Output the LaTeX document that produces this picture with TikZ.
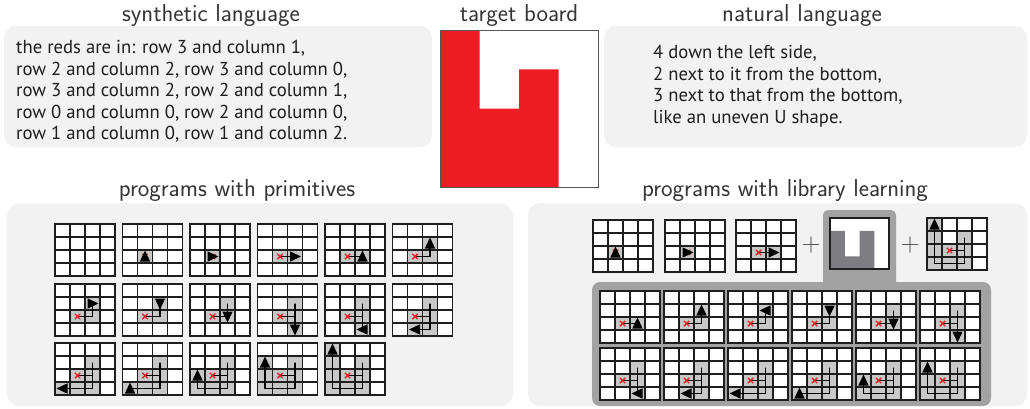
\documentclass[tikz,border=0pt]{standalone}
\usepackage{fontspec}
\newfontfamily\bodyfont{PT Sans}
\usepackage{tikz}
\usetikzlibrary{positioning}
\definecolor{panel}{HTML}{F2F2F2}
\definecolor{boardred}{HTML}{ED1C24}
\definecolor{visit}{HTML}{C8C8C8}
\definecolor{library}{HTML}{A3A2A3}
\definecolor{libshape}{HTML}{7E7E82}
\definecolor{ink}{HTML}{1E1E1E}

% 4x4 board: corner, visited cells, trail from the start, turtle cell, heading
\newcommand{\turtleboard}[5]{%
  \begin{scope}[shift={#1}, x=15pt, y=-13pt]
    \fill[white] (0,0) rectangle (4,4);
    \ifx\relax#2\relax\else\foreach \c/\r in {#2} {\fill[visited] (\c,\r) rectangle ++(1,1);}\fi
    \foreach \i in {1,2,3} {\draw[gridline] (\i,0) -- (\i,4) (0,\i) -- (4,\i);}
    \draw[gridline] (0,0) rectangle (4,4);
    \ifx\relax#4\relax\else
      \draw[trail] (1.5,2.5) #3;
      \draw[startmark] (1.5,2.5) +(-2.7pt,-2.7pt) -- +(2.7pt,2.7pt) +(-2.7pt,2.7pt) -- +(2.7pt,-2.7pt);
      \fill[turtle, shift={(#4)}, rotate=#5] (0pt,6pt) -- (-5.2pt,-5pt) -- (5.2pt,-5pt) -- cycle;
    \fi
  \end{scope}}

\begin{document}
\begin{tikzpicture}[x=1pt, y=-1pt,
  heading/.style={font=\sffamily\fontsize{24.5}{24.5}\selectfont, text=ink!90, anchor=base, inner sep=0pt},
  bodytext/.style={font=\bodyfont\fontsize{18.7}{21.6}\selectfont, text=ink, align=left, anchor=north west, inner sep=0pt},
  panelbox/.style={fill=panel, rounded corners=12pt},
  plus/.style={font=\sffamily\fontsize{26}{26}\selectfont, text=ink!80, inner sep=0pt},
  visited/.style={fill=visit},
  gridline/.style={draw=ink, line width=1.5pt},
  trail/.style={draw=black, line width=1.8pt},
  startmark/.style={draw=boardred, line width=1.4pt},
  turtle/.style={fill=black}]
\useasboundingbox (0,0) rectangle (1030,408);
% panels
\fill[panelbox] (4,26) rectangle (432,147);
\fill[panelbox] (604,26) rectangle (1027,147);
\fill[panelbox] (7,203) rectangle (513,406);
\fill[panelbox] (528,203) rectangle (1027,406);
% titles
\node[heading] (synth-title) at (211,21) {synthetic language};
\node[heading] (board-title) at (519,21) {target board};
\node[heading] (natural-title) at (802,21) {natural language};
\node[heading] (prim-title) at (237,196) {programs with primitives};
\node[heading] (lib-title) at (785,196) {programs with library learning};
% descriptions
\node[bodytext] (synth-text) at (16,40) {the reds are in: row 3 and column 1,\\
  row 2 and column 2, row 3 and column 0,\\
  row 3 and column 2, row 2 and column 1,\\
  row 0 and column 0, row 2 and column 0,\\
  row 1 and column 0, row 1 and column 2.};
\node[bodytext] (natural-text) at (653,45) {4 down the left side,\\
  2 next to it from the bottom,\\
  3 next to that from the bottom,\\
  like an uneven U shape.};
% target board
\begin{scope}[shift={(440,30)}, x=39.5pt, y=-39.25pt]
  \fill[white] (0,0) rectangle (4,4);
  \fill[boardred] (0,0) -- (1,0) -- (1,2) -- (2,2) -- (2,1) -- (3,1) -- (3,4) -- (0,4) -- cycle;
  \draw[ink!75, line width=0.8pt] (0,0) rectangle (4,4);
\end{scope}
% primitives
\turtleboard{(55,224)}{}{}{}{}
\turtleboard{(122.5,224)}{1/2}{}{1.5,2.5}{0}
\turtleboard{(190,224)}{1/2}{}{1.5,2.5}{-90}
\turtleboard{(257.5,224)}{1/2,2/2}{-- (2.5,2.5)}{2.5,2.5}{-90}
\turtleboard{(325,224)}{1/2,2/2}{-- (2.5,2.5)}{2.5,2.5}{0}
\turtleboard{(392.5,224)}{1/2,2/2,2/1}{-- (2.5,2.5) -- (2.5,1.5)}{2.5,1.5}{0}
\turtleboard{(55,284)}{1/2,2/2,2/1}{-- (2.5,2.5) -- (2.5,1.5)}{2.5,1.5}{-90}
\turtleboard{(122.5,284)}{1/2,2/2,2/1}{-- (2.5,2.5) -- (2.5,1.5)}{2.5,1.5}{180}
\turtleboard{(190,284)}{1/2,2/2,2/1}{-- (2.5,2.5) -- (2.5,1.5) -- (2.5,2.5)}{2.5,2.5}{180}
\turtleboard{(257.5,284)}{1/2,2/2,2/1,2/3}{-- (2.5,2.5) -- (2.5,1.5) -- (2.5,3.5)}{2.5,3.5}{180}
\turtleboard{(325,284)}{1/2,2/2,2/1,2/3}{-- (2.5,2.5) -- (2.5,1.5) -- (2.5,3.5)}{2.5,3.5}{90}
\turtleboard{(392.5,284)}{1/2,2/2,2/1,2/3,1/3}{-- (2.5,2.5) -- (2.5,1.5) -- (2.5,3.5) -- (1.5,3.5)}{1.5,3.5}{90}
\turtleboard{(55,343)}{1/2,2/2,2/1,2/3,1/3,0/3}{-- (2.5,2.5) -- (2.5,1.5) -- (2.5,3.5) -- (0.5,3.5)}{0.5,3.5}{90}
\turtleboard{(122.5,343)}{1/2,2/2,2/1,2/3,1/3,0/3}{-- (2.5,2.5) -- (2.5,1.5) -- (2.5,3.5) -- (0.5,3.5)}{0.5,3.5}{0}
\turtleboard{(190,343)}{1/2,2/2,2/1,2/3,1/3,0/3,0/2}{-- (2.5,2.5) -- (2.5,1.5) -- (2.5,3.5) -- (0.5,3.5) -- (0.5,2.5)}{0.5,2.5}{0}
\turtleboard{(257.5,343)}{1/2,2/2,2/1,2/3,1/3,0/3,0/2,0/1}{-- (2.5,2.5) -- (2.5,1.5) -- (2.5,3.5) -- (0.5,3.5) -- (0.5,1.5)}{0.5,1.5}{0}
\turtleboard{(325,343)}{1/2,2/2,2/1,2/3,1/3,0/3,0/2,0/1,0/0}{-- (2.5,2.5) -- (2.5,1.5) -- (2.5,3.5) -- (0.5,3.5) -- (0.5,0.5)}{0.5,0.5}{0}
% library learning
\fill[library, rounded corners=8pt] (592,282) rectangle (991,406);
\fill[library, rounded corners=5pt] (823,210) rectangle (896,295);
\begin{scope}[shift={(830,218)}, x=14.75pt, y=-12.75pt]
  \fill[white] (0,0) rectangle (4,4);
  \fill[libshape] (0,1) -- (1,1) -- (1,3) -- (2,3) -- (2,1) -- (3,1) -- (3,4) -- (0,4) -- cycle;
  \draw[ink, line width=1.3pt] (0,0) rectangle (4,4);
\end{scope}
\node[plus] (plus-a) at (811,245) {+};
\node[plus] (plus-b) at (910,245) {+};
\turtleboard{(593,220)}{1/2}{}{1.5,2.5}{0}
\turtleboard{(665,220)}{1/2}{}{1.5,2.5}{-90}
\turtleboard{(736,220)}{1/2,2/2}{-- (2.5,2.5)}{2.5,2.5}{-90}
\turtleboard{(927,218)}{1/2,2/2,2/1,2/3,1/3,0/3,0/2,0/1,0/0}{-- (2.5,2.5) -- (2.5,1.5) -- (2.5,3.5) -- (0.5,3.5) -- (0.5,0.5)}{0.5,0.5}{0}
\turtleboard{(600,291)}{1/2,2/2}{-- (2.5,2.5)}{2.5,2.5}{0}
\turtleboard{(664,291)}{1/2,2/2,2/1}{-- (2.5,2.5) -- (2.5,1.5)}{2.5,1.5}{0}
\turtleboard{(728,291)}{1/2,2/2,2/1}{-- (2.5,2.5) -- (2.5,1.5)}{2.5,1.5}{90}
\turtleboard{(792,291)}{1/2,2/2,2/1}{-- (2.5,2.5) -- (2.5,1.5)}{2.5,1.5}{180}
\turtleboard{(856,291)}{1/2,2/2,2/1}{-- (2.5,2.5) -- (2.5,1.5) -- (2.5,2.5)}{2.5,2.5}{180}
\turtleboard{(920,291)}{1/2,2/2,2/1,2/3}{-- (2.5,2.5) -- (2.5,1.5) -- (2.5,3.5)}{2.5,3.5}{180}
\turtleboard{(600,348)}{1/2,2/2,2/1,2/3}{-- (2.5,2.5) -- (2.5,1.5) -- (2.5,3.5)}{2.5,3.5}{90}
\turtleboard{(664,348)}{1/2,2/2,2/1,2/3,1/3}{-- (2.5,2.5) -- (2.5,1.5) -- (2.5,3.5) -- (1.5,3.5)}{1.5,3.5}{90}
\turtleboard{(728,348)}{1/2,2/2,2/1,2/3,1/3,0/3}{-- (2.5,2.5) -- (2.5,1.5) -- (2.5,3.5) -- (0.5,3.5)}{0.5,3.5}{90}
\turtleboard{(792,348)}{1/2,2/2,2/1,2/3,1/3,0/3}{-- (2.5,2.5) -- (2.5,1.5) -- (2.5,3.5) -- (0.5,3.5)}{0.5,3.5}{0}
\turtleboard{(856,348)}{1/2,2/2,2/1,2/3,1/3,0/3,0/2}{-- (2.5,2.5) -- (2.5,1.5) -- (2.5,3.5) -- (0.5,3.5) -- (0.5,2.5)}{0.5,2.5}{0}
\turtleboard{(920,348)}{1/2,2/2,2/1,2/3,1/3,0/3,0/2,0/1}{-- (2.5,2.5) -- (2.5,1.5) -- (2.5,3.5) -- (0.5,3.5) -- (0.5,1.5)}{0.5,1.5}{0}
\end{tikzpicture}
\end{document}
